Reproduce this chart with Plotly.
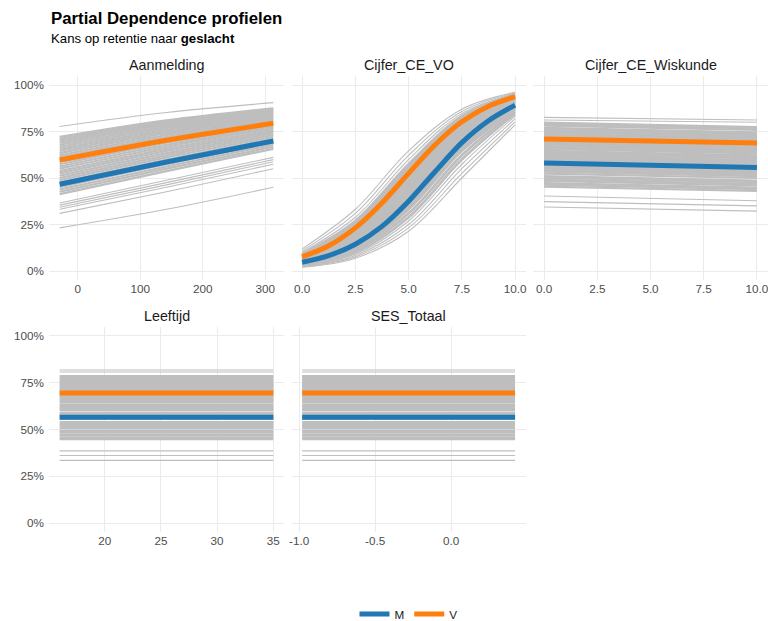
import plotly.graph_objects as go

# ---------------- data (percentages) ----------------
# Aanmelding: x positions of the readings, gray ICE lines (start, middle, end)
aan_x = [-29, 142, 313]
aan_grijs = [
    [77.7, 85.2, 90.5], [72.1, 81.0, 87.5], [71.1, 80.2, 87.0], [70.1, 79.4, 86.4],
    [69.0, 78.6, 85.8], [67.9, 77.7, 85.2], [66.8, 76.9, 84.6], [65.7, 75.9, 83.9],
    [64.6, 75.0, 83.2], [63.4, 74.1, 82.5], [62.2, 73.1, 81.8], [61.1, 72.1, 81.0],
    [59.9, 71.1, 80.2], [58.7, 70.0, 79.4], [57.4, 69.0, 78.6], [56.2, 67.9, 77.7],
    [55.0, 66.8, 76.9], [53.7, 65.7, 75.9], [52.5, 64.6, 75.0], [51.2, 63.4, 74.1],
    [50.0, 62.2, 73.1], [48.8, 61.1, 72.1], [47.5, 59.9, 71.1], [46.3, 58.7, 70.0],
    [45.0, 57.4, 69.0], [43.8, 56.2, 67.9], [42.6, 55.0, 66.8], [41.3, 53.7, 65.7],
    [36.6, 48.8, 61.1], [35.4, 47.5, 59.9], [34.3, 46.3, 58.7], [33.2, 45.0, 57.4],
    [31.0, 42.6, 55.0], [23.2, 33.2, 45.0],
]
aan_M = [46.6, 58.6, 69.9]
aan_V = [59.7, 70.3, 79.4]

# Cijfer_CE_VO
vo_x = [0, 2.5, 5, 7.5, 10]
vo_grijs = [
    [11.9, 33.2, 64.6, 87.0, 96.1], [10.9, 31.0, 62.2, 85.8, 95.7], [10.0, 28.9, 59.9, 84.6, 95.3],
    [9.1, 26.9, 57.4, 83.2, 94.8], [8.7, 25.9, 56.2, 82.5, 94.5], [8.3, 25.0, 55.0, 81.8, 94.3],
    [8.0, 24.1, 53.7, 81.0, 94.0], [7.6, 23.2, 52.5, 80.2, 93.7], [7.3, 22.3, 51.2, 79.4, 93.4],
    [6.9, 21.4, 50.0, 78.6, 93.1], [6.6, 20.6, 48.8, 77.7, 92.8], [6.3, 19.8, 47.5, 76.9, 92.4],
    [6.0, 19.0, 46.3, 75.9, 92.0], [5.7, 18.2, 45.0, 75.0, 91.7], [5.5, 17.5, 43.8, 74.1, 91.3],
    [5.2, 16.8, 42.6, 73.1, 90.9], [5.0, 16.1, 41.3, 72.1, 90.5], [4.7, 15.5, 40.1, 71.1, 90.0],
    [4.5, 14.8, 38.9, 70.0, 89.6], [4.3, 14.2, 37.8, 69.0, 89.1], [4.1, 13.6, 36.6, 67.9, 88.6],
    [3.9, 13.0, 35.4, 66.8, 88.1], [3.7, 12.5, 34.3, 65.7, 87.5], [3.6, 11.9, 33.2, 64.6, 87.0],
    [3.2, 10.9, 31.0, 62.2, 85.8], [2.9, 10.0, 28.9, 59.9, 84.6], [2.7, 9.1, 26.9, 57.4, 83.2],
    [2.4, 8.3, 25.0, 55.0, 81.8], [2.2, 7.6, 23.2, 52.5, 80.2], [2.0, 6.9, 21.4, 50.0, 78.6],
]
vo_x_fijn = [0, 1.25, 2.5, 3.75, 5, 6.25, 7.5, 8.75, 10]
vo_M = [4.7, 8.3, 14.4, 24.0, 37.5, 53.5, 69.0, 80.8, 89.2]
vo_V = [7.6, 13.6, 23.2, 36.6, 52.5, 67.9, 80.2, 88.6, 93.7]

# Cijfer_CE_Wiskunde (start, end)
wis_x = [0, 10]
wis_grijs = [
    [82.6, 81.2], [81.2, 80.0], [79.8, 77.4], [79.0, 76.6], [78.2, 75.8], [76.9, 74.5],
    [76.2, 73.8], [75.4, 73.0], [74.6, 72.2], [73.8, 71.4], [73.0, 70.6], [72.2, 69.8],
    [71.4, 69.0], [70.4, 68.0], [69.6, 67.2], [68.8, 66.4], [68.0, 65.6], [67.2, 64.8],
    [66.4, 64.0], [65.6, 63.2], [64.6, 62.2], [63.8, 61.4], [63.0, 60.6], [62.0, 59.6],
    [61.2, 58.8], [60.4, 58.0], [59.6, 57.2], [58.8, 56.4], [57.4, 55.0], [56.6, 54.2],
    [55.8, 53.4], [55.0, 52.6], [54.2, 51.8], [53.4, 51.0], [52.4, 50.0], [51.0, 48.6],
    [50.2, 47.8], [49.2, 46.8], [48.4, 46.0], [47.2, 44.8], [46.4, 44.0], [45.4, 43.0],
    [40.3, 37.8], [37.3, 35.0], [34.4, 32.2],
]
wis_M = [58.0, 55.7]
wis_V = [71.0, 68.8]

# Leeftijd and SES_Totaal: flat profiles
lft_x = [16, 35]
ses_x = [-0.98, 0.42]
vlak_niveaus = [
    81.8, 80.7, 78.6, 78.0, 77.2, 76.5, 75.8, 75.0, 74.3, 73.5, 72.8, 72.0, 71.2, 70.5,
    69.7, 68.8, 68.0, 67.2, 66.4, 65.6, 64.8, 63.4, 62.6, 61.8, 61.0, 60.2, 58.8, 58.0,
    57.2, 56.4, 55.6, 54.0, 53.2, 52.4, 51.6, 50.8, 49.4, 48.6, 47.4, 46.7, 45.5, 44.8,
    38.6, 36.1, 33.5,
]
vlak_M = 56.5
vlak_V = 69.5

y_ticks = [0, 25, 50, 75, 100]
y_labels = ["0%", "25%", "50%", "75%", "100%"]

# ---------------- styling ----------------
W, H = 768, 621
PH = H                       # paper height in px (margins are zero)
FONT = "Liberation Sans, Arial, Helvetica, sans-serif"
GRIJS = "#BEBEBE"
BLAUW = "#1F77B4"
ORANJE = "#FF7F0E"
GRID = "#EBEBEB"


def py(px_from_top):
    return (PH - px_from_top) / PH


panels = [
    dict(title="Aanmelding", px=(49, 284), py=(75.7, 280.3), xr=[-46.1, 330.1],
         tv=[0, 100, 200, 300], tt=["0", "100", "200", "300"], ylab=True),
    dict(title="Cijfer_CE_VO", px=(291.5, 525.7), py=(75.7, 280.3), xr=[-0.5, 10.5],
         tv=[0, 2.5, 5, 7.5, 10], tt=["0.0", "2.5", "5.0", "7.5", "10.0"], ylab=False),
    dict(title="Cijfer_CE_Wiskunde", px=(533.4, 767.6), py=(75.7, 280.3), xr=[-0.5, 10.5],
         tv=[0, 2.5, 5, 7.5, 10], tt=["0.0", "2.5", "5.0", "7.5", "10.0"], ylab=False),
    dict(title="Leeftijd", px=(49, 284), py=(326.6, 532.4), xr=[15.05, 35.95],
         tv=[20, 25, 30, 35], tt=["20", "25", "30", "35"], ylab=True),
    dict(title="SES_Totaal", px=(291.5, 525.7), py=(326.6, 532.4), xr=[-1.05, 0.49],
         tv=[-1.0, -0.5, 0.0], tt=["-1.0", "-0.5", "0.0"], ylab=False),
]


def grijs_traces(xs, lines, i, spline, band, wband=2.2):
    """band = (first, last) index of the densely packed lines (drawn a bit wider)."""
    out = []
    groups = [
        ([ln for j, ln in enumerate(lines) if band[0] <= j <= band[1]], wband),
        ([ln for j, ln in enumerate(lines) if not (band[0] <= j <= band[1])], 1.1),
    ]
    for grp, w in groups:
        X, Y = [], []
        for ln in grp:
            X += list(xs) + [None]
            Y += list(ln) + [None]
        out.append(go.Scatter(x=X, y=Y, mode="lines", xaxis=f"x{i}", yaxis=f"y{i}",
                              line=dict(color=GRIJS, width=w,
                                        shape="spline" if spline else "linear", smoothing=1.0),
                              hoverinfo="skip", showlegend=False, connectgaps=False))
    return out


def hl_trace(xs, ys, i, color, name, legend, spline):
    return go.Scatter(x=xs, y=ys, mode="lines", xaxis=f"x{i}", yaxis=f"y{i}",
                      line=dict(color=color, width=5, shape="spline" if spline else "linear",
                                smoothing=0.9),
                      name=name, legendgroup=name, showlegend=legend)


fig = go.Figure()

# panel 1
fig.add_traces(grijs_traces(aan_x, aan_grijs, "", True, (1, 27)))
fig.add_trace(hl_trace(aan_x, aan_M, "", BLAUW, "M", True, True))
fig.add_trace(hl_trace(aan_x, aan_V, "", ORANJE, "V", True, True))
# panel 2
fig.add_traces(grijs_traces(vo_x, vo_grijs, 2, True, (3, 25), wband=2.7))
fig.add_trace(hl_trace(vo_x_fijn, vo_M, 2, BLAUW, "M", False, True))
fig.add_trace(hl_trace(vo_x_fijn, vo_V, 2, ORANJE, "V", False, True))
# panel 3
fig.add_traces(grijs_traces(wis_x, wis_grijs, 3, False, (2, 41)))
fig.add_trace(hl_trace(wis_x, wis_M, 3, BLAUW, "M", False, False))
fig.add_trace(hl_trace(wis_x, wis_V, 3, ORANJE, "V", False, False))
# panel 4
fig.add_traces(grijs_traces(lft_x, [[v, v] for v in vlak_niveaus], 4, False, (2, 41)))
fig.add_trace(hl_trace(lft_x, [vlak_M, vlak_M], 4, BLAUW, "M", False, False))
fig.add_trace(hl_trace(lft_x, [vlak_V, vlak_V], 4, ORANJE, "V", False, False))
# panel 5
fig.add_traces(grijs_traces(ses_x, [[v, v] for v in vlak_niveaus], 5, False, (2, 41)))
fig.add_trace(hl_trace(ses_x, [vlak_M, vlak_M], 5, BLAUW, "M", False, False))
fig.add_trace(hl_trace(ses_x, [vlak_V, vlak_V], 5, ORANJE, "V", False, False))

layout = dict(
    width=W, height=H, template="none",
    margin=dict(l=0, r=0, t=0, b=0, pad=0, autoexpand=False),
    paper_bgcolor="white", plot_bgcolor="white",
    font=dict(family=FONT, color="#4D4D4D", size=11.7),
    showlegend=True,
    legend=dict(orientation="h", x=408.5 / W, xanchor="center", y=py(614), yanchor="middle",
                font=dict(size=11.7, color="#1A1A1A"), itemwidth=30, bgcolor="rgba(0,0,0,0)",
                traceorder="normal"),
)

annotations = [
    dict(text="<b>Partial Dependence profielen</b>", x=49 / W, y=py(18), xref="paper",
         yref="paper", xanchor="left", yanchor="middle", showarrow=False,
         font=dict(size=16.8, color="#000000", family=FONT)),
    dict(text="Kans op retentie naar <b>geslacht</b>", x=49 / W, y=py(38), xref="paper",
         yref="paper", xanchor="left", yanchor="middle", showarrow=False,
         font=dict(size=13.2, color="#000000", family=FONT)),
]

for k, p in enumerate(panels, start=1):
    suf = "" if k == 1 else str(k)
    x0, x1 = p["px"]
    ytop, ybot = p["py"]
    layout[f"xaxis{suf}"] = dict(
        domain=[x0 / W, min(x1 / W, 1.0)], range=p["xr"], anchor=f"y{suf}",
        tickvals=p["tv"], ticktext=p["tt"], showgrid=True, gridcolor=GRID, gridwidth=1.1,
        zeroline=False, showline=False, ticks="", tickfont=dict(size=11.7, color="#4D4D4D"),
        fixedrange=True, ticklabeloverflow="allow", automargin=False,
    )
    layout[f"yaxis{suf}"] = dict(
        domain=[py(ybot), py(ytop)], range=[-5, 105], anchor=f"x{suf}",
        tickvals=y_ticks, ticktext=y_labels, showticklabels=p["ylab"], showgrid=True,
        gridcolor=GRID, gridwidth=1.1, zeroline=False, showline=False, ticks="",
        tickfont=dict(size=11.7, color="#4D4D4D"), fixedrange=True, ticklabelstandoff=4,
        automargin=False,
    )
    strip_y = 65 if ytop < 200 else 316
    annotations.append(dict(text=p["title"], x=(x0 + x1) / 2 / W, y=py(strip_y),
                            xref="paper", yref="paper", xanchor="center", yanchor="middle",
                            showarrow=False, font=dict(size=14.3, color="#1A1A1A", family=FONT)))

layout["annotations"] = annotations
fig.update_layout(**layout)

fig.write_html("out.html", config={"displayModeBar": False},
               post_script="document.body.style.margin='0';")
